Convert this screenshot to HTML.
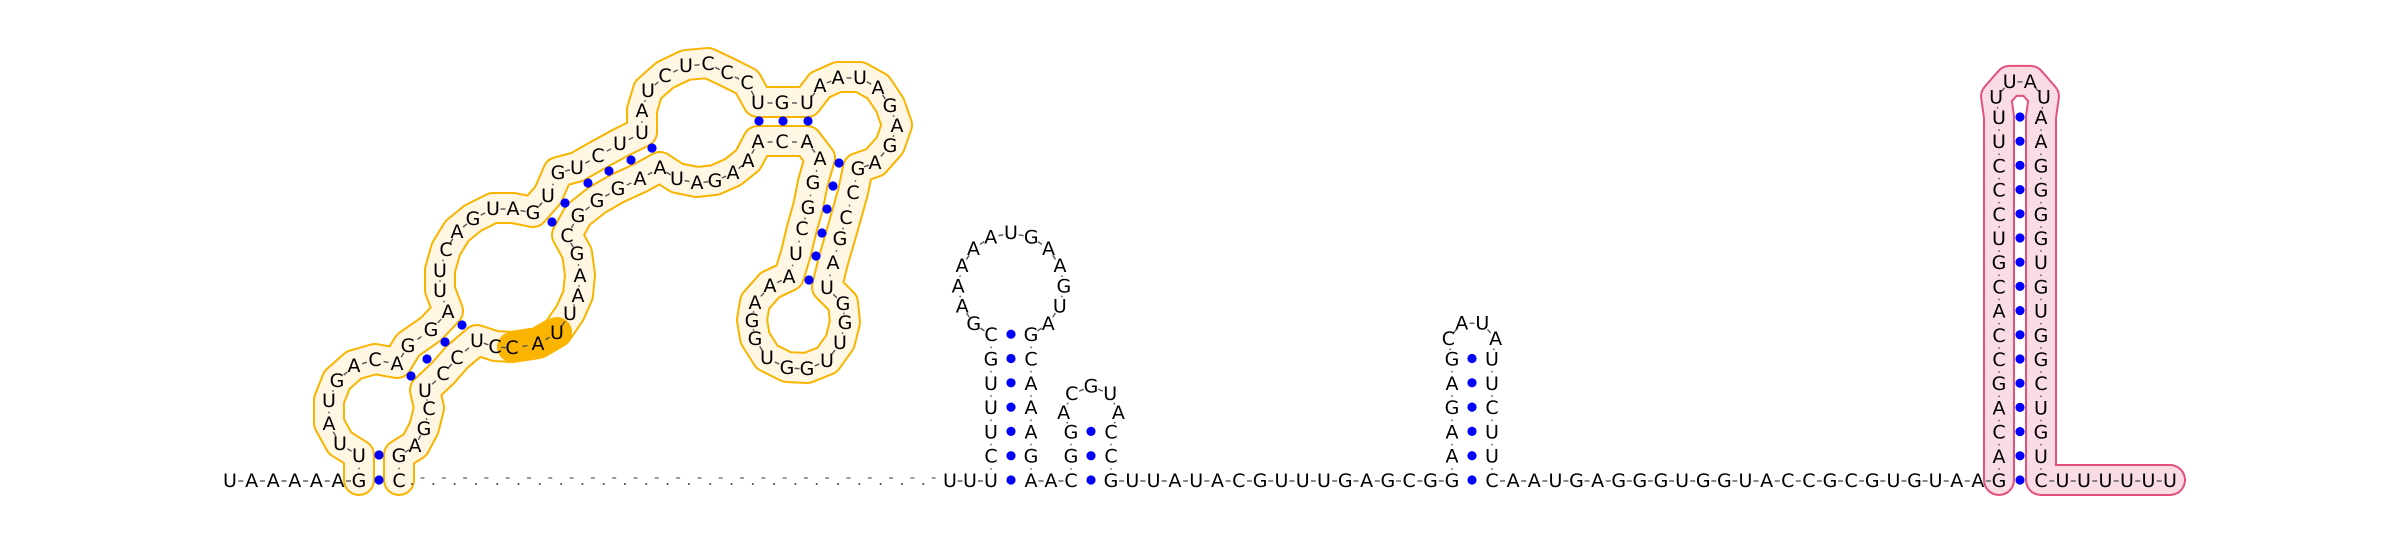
<!DOCTYPE html>
<html>
<head>
<meta charset="utf-8">
<style>
  html,body{margin:0;padding:0;background:#fff;}
  svg{display:block;}
  text{font-family:"DejaVu Sans","Liberation Sans",sans-serif;font-size:19px;fill:#000;}
</style>
</head>
<body>
<svg id="rna" width="2400" height="540" viewBox="0 0 2400 540" xmlns="http://www.w3.org/2000/svg">
  <rect x="0" y="0" width="2400" height="540" fill="#ffffff"/>
  <g id="bands"></g>
  <g id="conns"></g>
  <g id="dots"></g>
  <g id="letters"></g>
</svg>
<script>
// ---- structure data ----
const leftTail = "UAAAAA";
const yellowDomain = [
["G",359,480],["U",359,455],["U",340,443],["A",329,423],["U",329,400],["G",337,380],["A",354,365],["C",375,359],
["A",397,363],["G",408,345],["G",431,329],["A",448,311],["U",440,290],["U",440,270],["C",446,249],["A",457,231],
["G",473,218],["U",493,208],["A",513,208],["G",533,212],["U",548,195],["G",558,172],["U",577,167],["C",598,155],
["U",620,143],["U",642,132],["A",642,110],["U",648,90],["C",665,75],["U",686,65],["C",708,63],["C",727,72],
["C",747,82],["U",758,102],["G",782,102],["U",807,102],["A",820,85],["A",838,77],["U",860,77],["A",878,87],
["G",890,105],["A",897,125],["G",890,145],["A",875,162],["G",858,168],["C",853,192],["C",846,217],["G",840,238],
["A",833,262],["U",827,287],["G",843,303],["G",845,322],["U",840,342],["U",827,360],["G",807,368],["G",787,367],
["U",767,357],["G",755,338],["G",752,320],["A",755,302],["A",770,285],["A",789,276],["U",796,253],["C",802,228],
["G",808,207],["G",813,182],["A",820,158],["A",807,141],["C",782,141],["A",758,141],["A",748,160],["A",733,172],
["G",715,180],["A",697,182],["U",677,178],["A",660,167],["A",640,178],["G",618,188],["G",597,200],["G",578,215],
["C",567,235],["G",577,253],["A",580,275],["A",578,295],["U",570,313],["U",557,332],["A",538,343],["C",512,347],
["C",495,346],["U",477,340],["C",457,357],["C",443,373],["U",425,390],["C",429,408],["G",424,428],["A",415,445],
["G",399,455],["C",399,480]];
const yellowPairDots = [[379,455],[379,480],[411,376],[427,359],[445,342],[462,325],[552,222],[565,203],[588,183],
[609,171],[631,160],[652,148],[759,121],[783,121],[808,121],[839,163],[833,186],[827,209],[822,233],[816,256],[809,280]];
const orangeRange = [85,87]; // U,A,C highlighted

const stem1Left = "UCUUUGC", loop1 = "GAAAAAUGAAGUA", stem1Right = "GCAAAGA";
const stem2Left = "CGG", loop2 = "ACGUA", stem2Right = "CCG";
const link23 = "UUAUACGUUUGAGCG";
const stem3Left = "GAAGAG", loop3 = "CAUA", stem3Right = "UUCUUC";
const link34 = "AAUGAGGGUGGUACCGCGUGUAA";
const hairLeft = "GACAGCCACGUCCCUU", hairLoop = "UUAU", hairRight = "AAGGGGUGUGGCUGUC";
const tail3 = "UUUUUU";

// ---- layout helpers ----
const Y0 = 480, ROW = 24.3, S = 20.7;
const NS = "http://www.w3.org/2000/svg";
function mk(tag, attrs, parent){ const e=document.createElementNS(NS,tag); for(const k in attrs) e.setAttribute(k,attrs[k]); parent.appendChild(e); return e; }

function column(str, x, fromBottom){
  const n=str.length, pts=[];
  for(let i=0;i<n;i++){
    const row = fromBottom ? i : (n-1-i);
    pts.push([str[i], x, Y0 - row*ROW]);
  }
  return pts;
}
function loopPts(p1, p2, str){
  const k=str.length, c=Math.hypot(p2[1]-p1[1], p2[2]-p1[2]);
  let lo=c/2+0.01, hi=500;
  for(let it=0;it<80;it++){
    const R=(lo+hi)/2;
    const f=2*Math.asin(Math.min(1,c/(2*R)))+(k+1)*2*Math.asin(Math.min(1,S/(2*R)))-2*Math.PI;
    if(f>0) lo=R; else hi=R;
  }
  const R=(lo+hi)/2;
  const mx=(p1[1]+p2[1])/2, my=(p1[2]+p2[2])/2;
  const h=Math.sqrt(Math.max(0,R*R-c*c/4));
  const cx=mx, cy=my-h;
  const a1=Math.atan2(p1[2]-cy, p1[1]-cx);
  const step=2*Math.asin(S/(2*R));
  const pts=[];
  for(let j=1;j<=k;j++){ const a=a1+j*step; pts.push([str[j-1], cx+R*Math.cos(a), cy+R*Math.sin(a)]); }
  return pts;
}
function row(str, x0, step){ return str.split("").map((ch,i)=>[ch, x0+step*(i+1), Y0]); }

// ---- build sequence ----
const leftPts = leftTail.split("").map((ch,i)=>[ch, 230+i*21.6, Y0]);
const right = [];
right.push(["U",950,Y0],["U",970,Y0]);
const s1L=column(stem1Left,991,true), s1R=column(stem1Right,1031,false);
right.push(...s1L, ...loopPts(s1L[s1L.length-1], s1R[0], loop1), ...s1R);
right.push(["A",1051,Y0]);
const s2L=column(stem2Left,1071,true), s2R=column(stem2Right,1111,false);
right.push(...s2L, ...loopPts(s2L[s2L.length-1], s2R[0], loop2), ...s2R);
right.push(...row(link23,1111,21.3));
const s3L=column(stem3Left,1452,true), s3R=column(stem3Right,1492,false);
right.push(...s3L, ...loopPts(s3L[s3L.length-1], s3R[0], loop3), ...s3R);
right.push(...row(link34,1492,(1999-1492)/24));
const hL=[], hR=[];
for(let i=0;i<hairLeft.length;i++) hL.push([hairLeft[i],1999,Y0-i*24.2]);
for(let i=0;i<hairRight.length;i++) hR.push([hairRight[i],2041,Y0-(hairRight.length-1-i)*24.2]);
const hairStart = right.length;
right.push(...hL, ...loopPts(hL[hL.length-1], hR[0], hairLoop), ...hR);
right.push(...row(tail3,2041,21.5));
const pinkPts = right.slice(hairStart);

const stemPairs = [[991,1031,stem1Left.length,ROW],[1071,1111,stem2Left.length,ROW],[1452,1492,stem3Left.length,ROW],[1999,2041,hairLeft.length,24.2]];

// ---- draw bands ----
const bands=document.getElementById("bands");
function band(pts, outline, fill, name){
  const d="M"+pts.map(p=>p[1].toFixed(1)+","+p[2].toFixed(1)).join(" L");
  const o=mk("path",{d:d,fill:"none",stroke:outline,"stroke-width":32,"stroke-linejoin":"round","stroke-linecap":"round"},bands);
  
  
  const f=mk("path",{d:d,fill:"none",stroke:fill,"stroke-width":28,"stroke-linejoin":"round","stroke-linecap":"round"},bands);
  
  
}
band(yellowDomain,"#f9b400","#fff6e3","yellow-domain");
band(pinkPts,"#e4507c","#fadce4","pink-hairpin");
const hl=yellowDomain.slice(orangeRange[0],orangeRange[1]+1);
const ho=mk("path",{d:"M"+hl.map(p=>p[1]+","+p[2]).join(" L"),fill:"none",stroke:"#fbb400","stroke-width":30,"stroke-linecap":"round","stroke-linejoin":"round"},bands);



// ---- connectors ----
const conns=document.getElementById("conns");
function connect(pts){
  for(let i=0;i<pts.length-1;i++){
    const a=pts[i], b=pts[i+1];
    const dx=b[1]-a[1], dy=b[2]-a[2], L=Math.hypot(dx,dy);
    const mx=(a[1]+b[1])/2, my=(a[2]+b[2])/2;
    const half = Math.abs(dy)>Math.abs(dx)*2 ? 0.8 : 2.5;
    const ln=mk("line",{x1:mx-dx/L*half,y1:my-dy/L*half+1,x2:mx+dx/L*half,y2:my+dy/L*half+1,stroke:"#555","stroke-width":1.4},conns);
    
    
  }
}
connect(leftPts.concat([yellowDomain[0]]));
connect(yellowDomain);
connect(right);
for(let x=412;x<942;x+=21.3){
  const dt=mk("circle",{cx:x,cy:484,r:1,fill:"#444"},conns);
  
  
  const ds=mk("line",{x1:x+8.5,y1:478,x2:x+12.5,y2:478,stroke:"#666","stroke-width":1.3},conns);
  
  
}

// ---- pair dots ----
const dots=document.getElementById("dots");
function dot(x,y){
  const c=mk("circle",{cx:x,cy:y,r:4.6,fill:"#0000ff"},dots);
  
  
}
yellowPairDots.forEach(p=>dot(p[0],p[1]));
stemPairs.forEach(sp=>{ for(let i=0;i<sp[2];i++) dot((sp[0]+sp[1])/2, Y0-i*sp[3]); });

// ---- letters ----
const letters=document.getElementById("letters");
function label(p){
  const t=mk("text",{x:p[1].toFixed(1),y:(p[2]+7).toFixed(1),"text-anchor":"middle"},letters);
  t.textContent=p[0];
  
  
}
leftPts.forEach(label); yellowDomain.forEach(label); right.forEach(label);
</script>
</body>
</html>
